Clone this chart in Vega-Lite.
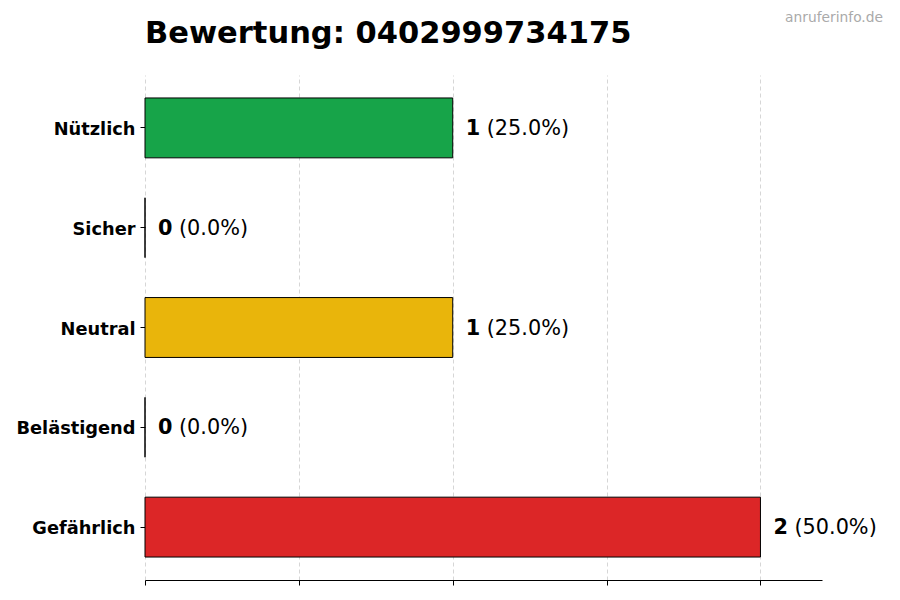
{
  "$schema": "https://vega.github.io/schema/vega-lite/v6.json",
  "width": 677,
  "height": 505,
  "autosize": "none",
  "padding": {"left": 145, "top": 75, "right": 78, "bottom": 20},
  "background": "white",
  "title": {
    "text": "Bewertung: 0402999734175",
    "anchor": "start",
    "frame": "group",
    "font": "DejaVu Sans",
    "fontSize": 30.5,
    "fontWeight": "bold",
    "color": "black",
    "offset": -38
  },
  "config": {
    "view": {"stroke": null},
    "font": "DejaVu Sans"
  },
  "data": {
    "values": [
      {"Kategorie": "Nützlich", "Anzahl": 1, "Anteil": "(25.0%)"},
      {"Kategorie": "Sicher", "Anzahl": 0, "Anteil": "(0.0%)"},
      {"Kategorie": "Neutral", "Anzahl": 1, "Anteil": "(25.0%)"},
      {"Kategorie": "Belästigend", "Anzahl": 0, "Anteil": "(0.0%)"},
      {"Kategorie": "Gefährlich", "Anzahl": 2, "Anteil": "(50.0%)"}
    ]
  },
  "layer": [
    {
      "mark": {"type": "bar", "stroke": "black", "strokeWidth": 1, "fillOpacity": 1},
      "encoding": {
        "y": {
          "field": "Kategorie",
          "type": "nominal",
          "sort": null,
          "title": null,
          "scale": {"paddingInner": 0.4, "paddingOuter": 0.23},
          "axis": {
            "domain": false,
            "ticks": true,
            "tickSize": 5,
            "tickColor": "black",
            "labelFont": "DejaVu Sans",
            "labelFontSize": 17.8,
            "labelFontWeight": "bold",
            "labelColor": "black",
            "labelPadding": 5,
            "labelBaseline": "middle",
            "labelOffset": 2,
            "grid": false
          }
        },
        "x": {
          "field": "Anzahl",
          "type": "quantitative",
          "title": null,
          "scale": {"domain": [0, 2.2], "nice": false},
          "axis": {
            "values": [0, 0.5, 1, 1.5, 2],
            "labels": false,
            "domain": true,
            "domainColor": "black",
            "ticks": true,
            "tickSize": 5,
            "tickColor": "black",
            "grid": true,
            "gridColor": "#cccccc",
            "gridDash": [4, 3],
            "gridWidth": 0.8
          }
        },
        "color": {
          "field": "Kategorie",
          "type": "nominal",
          "legend": null,
          "scale": {
            "domain": ["Nützlich", "Sicher", "Neutral", "Belästigend", "Gefährlich"],
            "range": ["#17a449", "#6b7280", "#e9b50b", "#f97316", "#dc2627"]
          }
        }
      }
    },
    {
      "mark": {"type": "text", "align": "left", "baseline": "middle", "dx": 13, "dy": 1, "fontSize": 20.8, "fontWeight": "bold", "color": "black"},
      "encoding": {
        "y": {"field": "Kategorie", "type": "nominal", "sort": null},
        "x": {"field": "Anzahl", "type": "quantitative"},
        "text": {"field": "Anzahl", "type": "quantitative"}
      }
    },
    {
      "mark": {"type": "text", "align": "left", "baseline": "middle", "dx": 34, "dy": 1, "fontSize": 20.8, "color": "black"},
      "encoding": {
        "y": {"field": "Kategorie", "type": "nominal", "sort": null},
        "x": {"field": "Anzahl", "type": "quantitative"},
        "text": {"field": "Anteil", "type": "nominal"}
      }
    },
    {
      "data": {"values": [{"Quelle": "anruferinfo.de"}]},
      "mark": {"type": "text", "align": "right", "baseline": "middle", "fontSize": 13.8, "color": "#aaaaaa", "clip": false},
      "encoding": {
        "text": {"field": "Quelle", "type": "nominal"},
        "x": {"datum": 2.2, "type": "quantitative"},
        "xOffset": {"value": 61},
        "y": {"value": -57}
      }
    }
  ]
}
